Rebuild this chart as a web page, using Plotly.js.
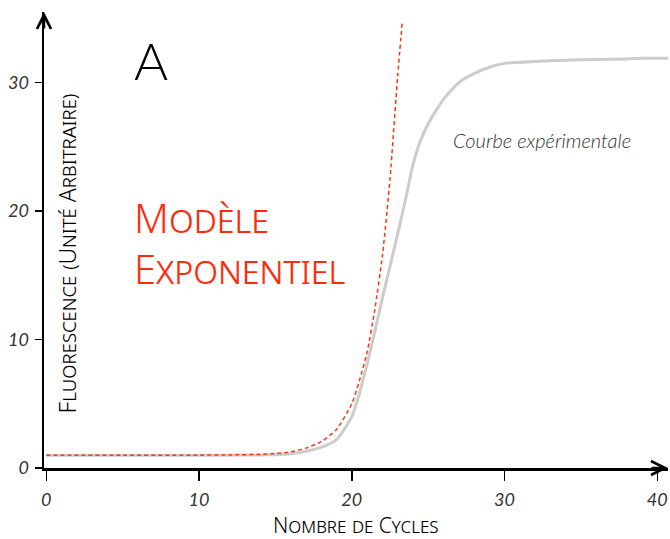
<!DOCTYPE html>
<html>
<head>
<meta charset="utf-8">
<script src="https://cdn.plot.ly/plotly-3.0.1.min.js"></script>
<style>html,body{margin:0;padding:0;background:#fff;}#chart{width:670px;height:539px;}</style>
</head>
<body>
<div id="chart"></div>
<script>
// Experimental (grey) curve
const expCycles = [0,2,4,6,8,10,12,13,14,15,16,17,18,19,20,20.5,21,21.5,22,22.5,23,23.5,24,24.5,25,25.5,26,27,28,29,30,32,34,36,38,39,40,41];
const expFluo   = [1.0,1.0,1.0,1.0,1.0,1.0,1.0,1.01,1.02,1.04,1.1,1.3,1.6,2.2,4.0,5.8,8.1,10.6,13.2,15.7,18.2,20.8,23.6,25.5,26.8,27.8,28.7,30.0,30.7,31.2,31.5,31.65,31.75,31.8,31.85,31.9,31.9,31.9];
// Exponential model (red dashed)
const modelCycles = [0,5,10,12,14,15,16,17,18,19,20,20.5,21,21.5,22,22.5,23,23.3];
const modelFluo   = [1.0,1.0,1.0,1.02,1.06,1.13,1.26,1.55,2.05,3.0,5.0,6.8,9.0,12.3,16.5,22.5,30.5,34.7];
// Axis ticks
const xTicks = [0,10,20,30,40];
const yTicks = [0,10,20,30];

const LATO = 'Lato, sans-serif';
const NOTO = 'Noto Sans, sans-serif';

const traces = [
  {x: expCycles, y: expFluo, type: 'scatter', mode: 'lines',
   line: {color: '#cccccc', width: 3, shape: 'spline', smoothing: 0.6}, hoverinfo: 'skip'},
  {x: modelCycles, y: modelFluo, type: 'scatter', mode: 'lines',
   line: {color: '#ff3414', width: 1.5, dash: '4px,3px', shape: 'spline', smoothing: 0.6}, hoverinfo: 'skip'}
];

const tickFont = {family: LATO, size: 18, color: '#333', style: 'italic', weight: 400};

const layout = {
  width: 670, height: 539,
  margin: {l: 44, r: 2, t: 12, b: 71},
  paper_bgcolor: '#fff', plot_bgcolor: '#fff',
  showlegend: false,
  xaxis: {range: [-0.15, 40.7], tickvals: xTicks, ticktext: xTicks.map(String),
          showgrid: false, zeroline: false, showline: true, linecolor: '#000', linewidth: 2.5,
          ticks: 'outside', ticklen: 10, tickwidth: 1.5, tickcolor: '#000',
          tickfont: tickFont, ticklabelstandoff: 4, fixedrange: true},
  yaxis: {range: [0, 35.5], tickvals: yTicks, ticktext: yTicks.map(String),
          showgrid: false, zeroline: false, showline: true, linecolor: '#000', linewidth: 2.5,
          ticks: 'outside', ticklen: 7, tickwidth: 1.5, tickcolor: '#000',
          tickfont: tickFont, ticklabelstandoff: 2, fixedrange: true},
  annotations: [
    // axis arrowheads
    {x: 40.7, y: 0, xref: 'x', yref: 'y', ax: -18, ay: 0, text: '', showarrow: true,
     arrowhead: 5, arrowsize: 1.1, arrowwidth: 2.5, arrowcolor: '#000', standoff: 0},
    {x: -0.15, y: 35.5, xref: 'x', yref: 'y', ax: 0, ay: 18, text: '', showarrow: true,
     arrowhead: 5, arrowsize: 1.1, arrowwidth: 2.5, arrowcolor: '#000', standoff: 0},
    // panel letter
    {x: 6.85, y: 31.8, xref: 'x', yref: 'y', text: 'A', showarrow: false,
     font: {family: LATO, size: 52, color: '#000', weight: 300}},
    // model label
    {x: 5.6, y: 19.5, xref: 'x', yref: 'y', xanchor: 'left', yanchor: 'middle', text: 'Modèle', showarrow: false,
     font: {family: NOTO, size: 40, color: '#ff2a0a', variant: 'small-caps', weight: 300}},
    {x: 5.6, y: 15.5, xref: 'x', yref: 'y', xanchor: 'left', yanchor: 'middle', text: 'Exponentiel', showarrow: false,
     font: {family: NOTO, size: 40, color: '#ff2a0a', variant: 'small-caps', weight: 300}},
    // experimental curve label
    {x: 32.45, y: 25.5, xref: 'x', yref: 'y', text: 'Courbe expérimentale', showarrow: false,
     font: {family: LATO, size: 20, color: '#333', style: 'italic', weight: 300}},
    // axis titles
    {x: 1.42, y: 16.7, xref: 'x', yref: 'y', text: 'Fluorescence (Unité Arbitraire)', showarrow: false,
     textangle: -90, font: {family: NOTO, size: 23, color: '#000', variant: 'small-caps', weight: 300}},
    {x: 20.3, y: -0.125, xref: 'x', yref: 'paper', yanchor: 'middle', borderpad: 0, text: 'Nombre de Cycles', showarrow: false,
     font: {family: NOTO, size: 21, color: '#000', variant: 'small-caps', weight: 300}}
  ]
};

Plotly.newPlot('chart', traces, layout, {staticPlot: true, displayModeBar: false});
</script>
</body>
</html>
